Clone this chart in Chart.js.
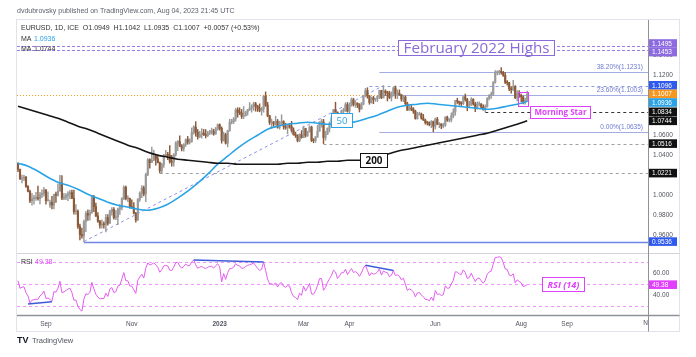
<!DOCTYPE html>
<html><head><meta charset="utf-8"><title>EURUSD 1D</title>
<script src="https://cdn.jsdelivr.net/npm/chart.js"></script>
<style>html,body{margin:0;padding:0;background:#fff;overflow:hidden}canvas{display:block}</style>
</head><body>
<canvas id="c" width="696" height="357"></canvas>
<script>
// ---------------- DATA (bar 0 = 2022-08-12, daily bars, last = 2023-08-04) ----------------
const open = [1.0320,1.0258,1.0162,1.0171,1.0179,1.0088,1.0038,0.9943,0.9966,0.9969,0.9974,0.9965,1.0003,1.0017,1.0054,0.9945,0.9900,0.9929,0.9902,1.0007,
1.0000,1.0041,1.0121,0.9970,0.9979,0.9998,1.0014,1.0027,0.9970,0.9836,0.9839,0.9688,0.9607,0.9594,0.9736,0.9817,0.9801,0.9825,0.9984,0.9886,
0.9793,0.9740,0.9701,0.9706,0.9705,0.9777,0.9720,0.9838,0.9858,0.9774,0.9784,0.9861,0.9875,0.9965,1.0080,0.9965,0.9966,0.9882,0.9877,0.9820,
0.9752,0.9960,1.0020,1.0073,1.0013,1.0207,1.0355,1.0325,1.0350,1.0392,1.0363,1.0325,1.0245,1.0304,1.0397,1.0408,1.0398,1.0338,1.0330,1.0406,
1.0522,1.0537,1.0492,1.0468,1.0507,1.0556,1.0530,1.0537,1.0627,1.0682,1.0628,1.0584,1.0605,1.0622,1.0604,1.0595,1.0618,1.0638,1.0639,1.0612,
1.0663,1.0705,1.0669,1.0548,1.0607,1.0520,1.0644,1.0730,1.0735,1.0762,1.0853,1.0829,1.0822,1.0788,1.0795,1.0831,1.0855,1.0870,1.0885,1.0915,
1.0890,1.0868,1.0847,1.0863,1.0990,1.0902,1.0795,1.0727,1.0727,1.0712,1.0740,1.0678,1.0723,1.0737,1.0688,1.0674,1.0694,1.0687,1.0650,1.0604,
1.0595,1.0545,1.0607,1.0576,1.0667,1.0597,1.0635,1.0681,1.0548,1.0545,1.0581,1.0640,1.0731,1.0733,1.0577,1.0610,1.0671,1.0719,1.0769,1.0856,
1.0831,1.0760,1.0799,1.0843,1.0843,1.0904,1.0841,1.0901,1.0955,1.0906,1.0921,1.0901,1.0862,1.0911,1.0992,1.1046,1.0993,1.0926,1.0973,1.0956,
1.0966,1.0990,1.1048,1.0974,1.1041,1.1027,1.1020,1.0977,1.1000,1.1073,1.1012,1.1020,1.1004,1.0962,1.0982,1.0915,1.0850,1.0872,1.0862,1.0840,
1.0767,1.0806,1.0812,1.0770,1.0750,1.0725,1.0723,1.0706,1.0735,1.0690,1.0761,1.0710,1.0713,1.0692,1.0698,1.0781,1.0750,1.0753,1.0792,1.0833,
1.0944,1.0939,1.0922,1.0915,1.0985,1.0957,1.0894,1.0905,1.0960,1.0913,1.0867,1.0909,1.0912,1.0880,1.0854,1.0886,1.0967,1.0999,1.1010,1.1128,
1.1225,1.1228,1.1238,1.1229,1.1200,1.1129,1.1124,1.1064,1.1055,1.1087,1.0975,1.1017,1.0998,1.0983,1.0938,1.0949];
const high = [1.0324,1.0262,1.0201,1.0202,1.0188,1.0095,1.0050,1.0018,0.9999,1.0028,1.0091,1.0028,1.0054,1.0079,1.0057,1.0034,0.9952,0.9988,1.0011,1.0030,
1.0113,1.0198,1.0197,1.0019,1.0017,1.0037,1.0049,1.0051,1.0050,0.9907,0.9853,0.9710,0.9671,0.9750,0.9839,0.9853,0.9850,0.9999,0.9999,0.9920,
0.9826,0.9749,0.9754,0.9734,0.9808,0.9806,0.9850,0.9876,0.9876,0.9845,0.9871,0.9906,0.9976,1.0093,1.0090,0.9993,0.9970,0.9954,0.9926,0.9828,
0.9966,1.0034,1.0095,1.0090,1.0222,1.0365,1.0363,1.0481,1.0450,1.0410,1.0403,1.0332,1.0318,1.0409,1.0448,1.0428,1.0497,1.0398,1.0416,1.0535,
1.0545,1.0594,1.0505,1.0515,1.0564,1.0588,1.0564,1.0673,1.0695,1.0736,1.0657,1.0640,1.0666,1.0658,1.0656,1.0639,1.0650,1.0671,1.0660,1.0679,
1.0713,1.0713,1.0683,1.0631,1.0620,1.0650,1.0760,1.0760,1.0777,1.0868,1.0875,1.0874,1.0858,1.0887,1.0840,1.0858,1.0927,1.0905,1.0930,1.0929,
1.0900,1.0914,1.0880,1.1000,1.1033,1.0930,1.0798,1.0762,1.0738,1.0790,1.0758,1.0740,1.0804,1.0745,1.0720,1.0705,1.0718,1.0739,1.0674,1.0631,
1.0605,1.0614,1.0646,1.0690,1.0670,1.0640,1.0694,1.0691,1.0566,1.0588,1.0700,1.0736,1.0760,1.0759,1.0640,1.0672,1.0731,1.0786,1.0858,1.0930,
1.0833,1.0807,1.0852,1.0870,1.0925,1.0927,1.0922,1.0973,1.0970,1.0941,1.0924,1.0916,1.0927,1.0998,1.1068,1.1075,1.0996,1.0982,1.0990,1.0970,
1.0995,1.1050,1.1050,1.1095,1.1054,1.1040,1.1040,1.1034,1.1080,1.1092,1.1054,1.1053,1.1008,1.1000,1.0992,1.0930,1.0903,1.0904,1.0876,1.0850,
1.0829,1.0830,1.0822,1.0808,1.0760,1.0737,1.0734,1.0747,1.0742,1.0772,1.0779,1.0726,1.0714,1.0720,1.0785,1.0791,1.0765,1.0823,1.0865,1.0949,
1.0970,1.0940,1.0935,1.0985,1.1012,1.0969,1.0939,1.0976,1.0965,1.0928,1.0933,1.0933,1.0916,1.0903,1.0903,1.0975,1.1007,1.1032,1.1136,1.1245,
1.1244,1.1249,1.1276,1.1238,1.1227,1.1145,1.1129,1.1086,1.1149,1.1095,1.1045,1.1046,1.1011,1.0994,1.0972,1.1042];
const low = [1.0235,1.0159,1.0122,1.0145,1.0079,1.0033,0.9926,0.9900,0.9911,0.9948,0.9951,0.9914,0.9975,0.9990,0.9910,0.9940,0.9877,0.9864,0.9864,0.9929,
0.9990,1.0041,0.9955,0.9955,0.9956,0.9945,0.9966,0.9966,0.9810,0.9807,0.9669,0.9553,0.9570,0.9536,0.9635,0.9749,0.9750,0.9819,0.9835,0.9785,
0.9727,0.9671,0.9670,0.9670,0.9632,0.9700,0.9719,0.9800,0.9761,0.9755,0.9705,0.9808,0.9852,0.9955,0.9954,0.9935,0.9870,0.9869,0.9812,0.9730,
0.9748,0.9938,0.9976,0.9992,0.9935,1.0195,1.0270,1.0325,1.0345,1.0300,1.0324,1.0223,1.0225,1.0277,1.0385,1.0355,1.0320,1.0290,1.0290,1.0390,
1.0446,1.0485,1.0443,1.0440,1.0487,1.0510,1.0512,1.0530,1.0610,1.0590,1.0560,1.0575,1.0571,1.0597,1.0572,1.0585,1.0605,1.0610,1.0600,1.0610,
1.0650,1.0650,1.0520,1.0540,1.0511,1.0483,1.0640,1.0712,1.0715,1.0740,1.0780,1.0805,1.0767,1.0766,1.0790,1.0800,1.0846,1.0830,1.0850,1.0840,
1.0837,1.0834,1.0800,1.0830,1.0888,1.0784,1.0707,1.0670,1.0688,1.0700,1.0670,1.0660,1.0700,1.0660,1.0659,1.0613,1.0670,1.0630,1.0600,1.0577,
1.0533,1.0535,1.0570,1.0575,1.0580,1.0586,1.0630,1.0536,1.0524,1.0528,1.0580,1.0640,1.0680,1.0516,1.0550,1.0606,1.0632,1.0712,1.0760,1.0830,
1.0713,1.0760,1.0788,1.0814,1.0837,1.0830,1.0788,1.0889,1.0891,1.0878,1.0876,1.0832,1.0860,1.0903,1.0983,1.0970,1.0909,1.0920,1.0915,1.0938,
1.0936,1.0966,1.0966,1.0972,1.0995,1.0942,1.0966,1.0942,1.0992,1.0968,1.0966,1.0998,1.0940,1.0935,1.0906,1.0848,1.0850,1.0845,1.0818,1.0760,
1.0760,1.0800,1.0760,1.0748,1.0710,1.0702,1.0693,1.0675,1.0635,1.0662,1.0705,1.0675,1.0665,1.0674,1.0688,1.0738,1.0732,1.0733,1.0775,1.0799,
1.0917,1.0901,1.0896,1.0906,1.0940,1.0844,1.0883,1.0897,1.0900,1.0835,1.0860,1.0893,1.0872,1.0851,1.0834,1.0880,1.0953,1.0967,1.0998,1.1121,
1.1203,1.1205,1.1210,1.1188,1.1115,1.1101,1.1045,1.1020,1.1045,1.0966,1.0944,1.0977,1.0935,1.0912,1.0910,1.0935];
const close = [1.0259,1.0162,1.0171,1.0179,1.0088,1.0038,0.9943,0.9966,0.9969,0.9974,0.9965,1.0003,1.0017,1.0054,0.9945,0.9954,0.9929,0.9902,1.0007,1.0000,
1.0041,1.0121,0.9970,0.9979,0.9998,1.0014,1.0027,0.9970,0.9836,0.9839,0.9688,0.9607,0.9594,0.9736,0.9817,0.9801,0.9825,0.9984,0.9886,0.9793,
0.9740,0.9701,0.9706,0.9705,0.9777,0.9720,0.9838,0.9858,0.9774,0.9784,0.9861,0.9875,0.9965,1.0080,0.9965,0.9966,0.9882,0.9877,0.9820,0.9752,
0.9960,1.0020,1.0073,1.0013,1.0207,1.0355,1.0325,1.0350,1.0392,1.0363,1.0325,1.0245,1.0304,1.0397,1.0408,1.0398,1.0338,1.0330,1.0406,1.0522,
1.0537,1.0492,1.0468,1.0507,1.0556,1.0530,1.0537,1.0627,1.0682,1.0628,1.0584,1.0605,1.0622,1.0604,1.0595,1.0618,1.0638,1.0639,1.0612,1.0663,
1.0705,1.0669,1.0548,1.0607,1.0520,1.0644,1.0730,1.0735,1.0762,1.0853,1.0829,1.0822,1.0788,1.0795,1.0831,1.0855,1.0870,1.0885,1.0915,1.0890,
1.0868,1.0847,1.0863,1.0990,1.0902,1.0795,1.0727,1.0727,1.0712,1.0740,1.0678,1.0723,1.0737,1.0688,1.0674,1.0694,1.0687,1.0650,1.0604,1.0595,
1.0545,1.0607,1.0576,1.0667,1.0597,1.0635,1.0681,1.0548,1.0545,1.0581,1.0640,1.0731,1.0733,1.0577,1.0610,1.0671,1.0719,1.0769,1.0856,1.0831,
1.0760,1.0799,1.0843,1.0843,1.0904,1.0841,1.0901,1.0955,1.0906,1.0921,1.0901,1.0862,1.0911,1.0992,1.1046,1.0993,1.0926,1.0973,1.0956,1.0966,
1.0990,1.1048,1.0974,1.1041,1.1027,1.1020,1.0977,1.1000,1.1073,1.1012,1.1020,1.1004,1.0962,1.0982,1.0915,1.0850,1.0872,1.0862,1.0840,1.0767,
1.0806,1.0812,1.0770,1.0750,1.0725,1.0723,1.0706,1.0735,1.0690,1.0761,1.0710,1.0713,1.0692,1.0698,1.0781,1.0750,1.0753,1.0792,1.0833,1.0944,
1.0939,1.0922,1.0915,1.0985,1.0957,1.0894,1.0905,1.0960,1.0913,1.0867,1.0909,1.0912,1.0880,1.0854,1.0886,1.0967,1.0999,1.1010,1.1128,1.1225,
1.1228,1.1238,1.1229,1.1200,1.1129,1.1124,1.1064,1.1055,1.1087,1.0975,1.1017,1.0998,1.0983,1.0938,1.0949,1.1007];
const rsi = [53,46,47,47.5,42,39,32.5,35,35.5,36,35.8,39,40.6,43.5,36.5,37.2,35.8,34,43,42.5,
46,52.5,42,42.8,44,45.2,46.2,42,35,35.3,29.5,26.5,25,36,41,40.3,42,51.5,45.5,40.5,
38,36.3,36.6,36.5,41.5,38.5,45.5,46.7,42.2,42.9,48,48.8,54.5,60.5,53,53,48.2,48,44.7,41.3,
53.5,56.5,59,55.5,64.5,69.5,67.5,68.3,69.5,67.7,65.5,60.8,63.2,66.7,67.2,66.6,62.8,62.4,65.5,69.6,
70.1,66.5,64.6,66.3,68.4,66.8,67.1,70.3,72.2,67.8,64.5,65.5,66.2,65,64.3,65.4,66.3,66.3,64.6,66.9,
68.6,65.8,52,59.6,54.2,60.5,64.2,64.4,65.5,68.8,67.2,66.7,64.4,64.7,66.2,67.2,67.8,68.4,69.6,66.8,
64.5,62.5,63.5,70.3,62.5,54.5,50.2,50.2,49.2,51,47.2,50.3,51.2,47.9,47,48.5,48,42,38.5,37.5,
35.5,41.5,39.5,48,43.5,46.7,50.4,40.8,40.6,43.7,48.5,55,55.1,44.2,46.8,51.6,54.8,58,62.8,61.1,
55.1,57.5,60.4,60.4,63.7,58.6,61.6,64.2,60.7,61.4,60.1,57.1,60.2,64.8,67.2,62.6,57.5,60.3,59.1,59.6,
61,64,58.2,61.9,60.9,60.4,56.7,58.1,62.4,57.9,58.4,57.2,53.8,55.3,49.8,44,45.5,44.5,42.8,38.2,
41.7,42.2,39.6,38.3,35.8,35.7,34.5,38,34.6,44,40.4,40.8,39.4,40.1,48.3,46,46.3,50,53.4,61.3,
60.9,59.3,58.7,63,60.5,55.2,56,60,55.9,52.2,55.2,55.5,52.9,50.7,53.3,59.1,61.2,61.9,68.5,74.5,
74.6,75.2,74.3,69.9,63.8,63.4,58.3,57.6,59.5,51.1,53.8,52.4,51.2,47.6,48.4,49.38];
// moving averages read every maStep bars (bar 0, 5, 10, ... 255)
const maStep = 5;
const ma50 = [1.032,1.029,1.024,1.018,1.013,1.010,1.006,1.001,0.997,0.993,0.990,0.988,0.986,0.985,0.987,0.991,0.997,1.004,1.012,1.021,
1.031,1.039,1.047,1.054,1.060,1.066,1.069,1.071,1.072,1.073,1.072,1.071,1.071,1.072,1.074,1.077,1.080,1.084,1.088,1.090,
1.091,1.092,1.091,1.090,1.089,1.088,1.087,1.086,1.087,1.089,1.091,1.0936];
const ma200 = [1.089,1.086,1.083,1.080,1.077,1.073,1.069,1.066,1.062,1.058,1.054,1.050,1.047,1.043,1.040,1.038,1.036,1.035,1.034,1.033,
1.032,1.032,1.031,1.031,1.031,1.031,1.031,1.032,1.032,1.033,1.033,1.034,1.034,1.035,1.035,1.036,1.038,1.041,1.044,1.046,
1.048,1.050,1.052,1.054,1.056,1.058,1.060,1.062,1.065,1.068,1.071,1.0744];
// time axis
const xTickIdx = [14,57,101,143,166,209,252,275,316];
const xTickLabels = ['Sep','Nov','2023','Mar','Apr','Jun','Aug','Sep','Nov'];
const priceTicks = [0.96,0.98,1.00,1.02,1.04,1.06,1.08,1.10,1.12,1.14];
const rsiTicks = [40,60];
const rsiLevels = [70,50,30];
// drawn levels
const levelPrices = [1.1495,1.1453,1.1096,1.0834,1.0516,1.0221,0.9536];
const levelStart  = [-0.5,-0.5,176,234,153,71,33];
const fibLabels = ['38.20%','23.60%','0.00%'];
const fibPrices = [1.1231,1.1003,1.0635];
const fibStart = 181;
const trendLine = [33,0.9536,183,1.1095];
const rsiDivergence = [[5,31.6,17,33.7],[88,72.2,123,70.3],[174,67.2,188,62.4]];
const lastPrice = 1.1007, lastMA50 = 1.0936, lastMA200 = 1.0744, lastRSI = 49.38;
const patternBox = [250.4,255.6,1.1035,1.0892];
const notes = [
  {text:'February 2022 Highs', i:229.2, v:1.1476, axis:'y'},
  {text:'50', i:162.2, v:1.0752, axis:'y'},
  {text:'200', i:178, v:1.0352, axis:'y'},
  {text:'Morning Star', i:271.5, v:1.0834, axis:'y'},
  {text:'RSI (14)', i:272.7, v:50, axis:'yR'}
];

// ---------------- STYLE ----------------
const UP = '#9a9a9a', DOWN = '#8c5a38';
const FONT = "'Liberation Sans', Arial, sans-serif";
const NOTE_FONT = "'Open Sans', 'Liberation Sans', sans-serif";
const noteStyle = [
  {color:'#8a6bd9', w:146, h:15, weight:'normal', italic:false},
  {color:'#2aa3e6', w:11, h:14, weight:'normal', italic:false},
  {color:'#111111', w:17, h:14, weight:'bold', italic:false},
  {color:'#e040fb', w:52, h:12, weight:'bold', italic:false},
  {color:'#e040fb', w:32, h:14, weight:'bold', italic:true}
];
const levelStyle = [
  {c:'#9b7fe6', d:[3,2], w:1},
  {c:'#9b7fe6', d:[3,2], w:1},
  {c:'#8f9be0', d:[3,3], w:1},
  {c:'#333333', d:[3,3], w:1},
  {c:'#a0a0a0', d:[3,3], w:1},
  {c:'#a0a0a0', d:[3,3], w:1},
  {c:'#6f86e8', d:[], w:1.5}
];
const X_MIN = -0.5, X_MAX = 315.5;

Chart.defaults.font.family = FONT;

const candleColor = close.map((c,i)=> c>=open[i] ? UP : DOWN);
const wickData = close.map((c,i)=>({x:i, y:[low[i], high[i]]}));
const bodyData = close.map((c,i)=>({x:i, y:[Math.min(open[i],c), Math.max(open[i],c)]}));
const ma50Data = ma50.map((v,k)=>({x:k*maStep, y:v}));
const ma200Data = ma200.map((v,k)=>({x:k*maStep, y:v}));
const rsiData = rsi.map((v,i)=>({x:i, y:v}));

function seg(ctx,x1,y1,x2,y2){ctx.beginPath();ctx.moveTo(x1,y1);ctx.lineTo(x2,y2);ctx.stroke();}

const overlay = {
  id:'overlay',
  beforeDatasetsDraw(chart){
    const {ctx, chartArea:ca, scales:{x,y,yR}} = chart;
    ctx.save();
    ctx.beginPath(); ctx.rect(ca.left, ca.top, ca.right-ca.left, ca.bottom-ca.top); ctx.clip();
    ctx.lineWidth = 1; ctx.setLineDash([3,3]); ctx.strokeStyle = 'rgba(224,64,251,0.55)';
    rsiLevels.forEach(v=>{const py=Math.round(yR.getPixelForValue(v))+0.5; seg(ctx,ca.left,py,ca.right,py);});
    ctx.setLineDash([1,2]); ctx.strokeStyle='#f59a23';
    let py = Math.round(y.getPixelForValue(lastPrice))+0.5; seg(ctx,ca.left,py,ca.right,py);
    levelPrices.forEach((p,k)=>{
      const s=levelStyle[k]; ctx.strokeStyle=s.c; ctx.lineWidth=s.w; ctx.setLineDash(s.d);
      const yy=Math.round(y.getPixelForValue(p))+0.5;
      seg(ctx, x.getPixelForValue(levelStart[k]), yy, ca.right, yy);
    });
    ctx.setLineDash([]); ctx.lineWidth=1; ctx.strokeStyle='#a3abe3';
    fibPrices.forEach(p=>{const yy=Math.round(y.getPixelForValue(p))+0.5; seg(ctx,x.getPixelForValue(fibStart),yy,ca.right,yy);});
    ctx.setLineDash([3,3]); ctx.strokeStyle='#8c8fe8';
    seg(ctx, x.getPixelForValue(trendLine[0]), y.getPixelForValue(trendLine[1]), x.getPixelForValue(trendLine[2]), y.getPixelForValue(trendLine[3]));
    ctx.restore();
  },
  afterDatasetsDraw(chart){
    const {ctx, chartArea:ca, scales:{x,y,yR}} = chart;
    ctx.save();
    ctx.strokeStyle='#3f5bd8'; ctx.lineWidth=1.5;
    rsiDivergence.forEach(d=>seg(ctx,x.getPixelForValue(d[0]),yR.getPixelForValue(d[1]),x.getPixelForValue(d[2]),yR.getPixelForValue(d[3])));
    ctx.fillStyle='#6d7ad1'; ctx.font='6.5px '+FONT; ctx.textAlign='right'; ctx.textBaseline='alphabetic';
    fibPrices.forEach((p,k)=>{ctx.fillText(fibLabels[k]+'('+p.toFixed(4)+')', ca.right-5, y.getPixelForValue(p)-3);});
    ctx.strokeStyle='#e040fb'; ctx.lineWidth=1;
    const bx1=Math.round(x.getPixelForValue(patternBox[0]))+0.5, bx2=Math.round(x.getPixelForValue(patternBox[1]))+0.5;
    const by1=Math.round(y.getPixelForValue(patternBox[2]))+0.5, by2=Math.round(y.getPixelForValue(patternBox[3]))+0.5;
    ctx.strokeRect(bx1,by1,bx2-bx1,by2-by1);
    notes.forEach((n,k)=>{
      const s=noteStyle[k]; const sc = n.axis==='y'? y : yR;
      const base = (s.italic?'italic ':'')+s.weight+' ';
      ctx.font = base+'10px '+NOTE_FONT;
      const m = ctx.measureText(n.text).width;
      const size = 10*s.w/m;
      ctx.font = base+size.toFixed(2)+'px '+NOTE_FONT;
      const tw = ctx.measureText(n.text).width;
      const bw = Math.round(tw + (s.h>13? 10:8)), bh = s.h;
      const cx = x.getPixelForValue(n.i), cy = sc.getPixelForValue(n.v);
      const l = Math.round(cx-bw/2)+0.5, t=Math.round(cy-bh/2)+0.5;
      ctx.fillStyle='#fff'; ctx.fillRect(l,t,bw,bh);
      ctx.strokeStyle=s.color; ctx.lineWidth=1; ctx.strokeRect(l,t,bw,bh);
      ctx.fillStyle=s.color; ctx.textAlign='center'; ctx.textBaseline='middle';
      ctx.fillText(n.text, l+bw/2, t+bh/2+0.5);
    });
    ctx.restore();
  },
  afterDraw(chart){
    const {ctx, chartArea:ca, scales:{x,y,yR}} = chart;
    ctx.save();
    const axR = 679.5, axBottom = 331.5;
    ctx.save();
    ctx.beginPath(); ctx.rect(ca.left, ca.bottom, ca.right-ca.left, axBottom-ca.bottom); ctx.clip();
    ctx.fillStyle='#50535e'; ctx.font='6.5px '+FONT; ctx.textAlign='center'; ctx.textBaseline='top';
    xTickIdx.forEach((v,k)=>{ if(v>X_MAX) ctx.fillText(xTickLabels[k], x.getPixelForValue(v), ca.bottom+5); });
    ctx.restore();
    ctx.strokeStyle='#e0e3eb'; ctx.lineWidth=1;
    ctx.strokeRect(16.5,19.5,axR-16.5,axBottom-19.5);
    const sep = Math.round(y.bottom)+0.5;
    ctx.strokeStyle='#d1d4dc'; seg(ctx, ca.left, sep, axR, sep);
    ctx.strokeStyle='#8f929b'; ctx.lineWidth=1;
    seg(ctx, Math.round(ca.right)+0.5, ca.top, Math.round(ca.right)+0.5, axBottom);
    ctx.lineWidth=1.5; seg(ctx, ca.left, ca.bottom+0.5, axR, ca.bottom+0.5);
    const tags = [
      {v:1.1495, bg:'#8e6ae0'}, {v:1.1453, bg:'#8e6ae0'}, {v:1.1096, bg:'#2f5af0'},
      {v:lastPrice, bg:'#f5961e'}, {v:lastMA50, bg:'#2aa3e6'}, {v:1.0834, bg:'#111'},
      {v:lastMA200, bg:'#111'}, {v:1.0516, bg:'#111'}, {v:1.0221, bg:'#111'}, {v:0.9536, bg:'#2f5af0'}
    ].map(t=>({...t, py:y.getPixelForValue(t.v), txt:t.v.toFixed(4)}));
    tags.push({v:lastRSI, bg:'#e040fb', py:yR.getPixelForValue(lastRSI), txt:lastRSI.toFixed(2)});
    const H=8.6;
    tags.sort((a,b)=>a.py-b.py);
    for(let it=0; it<30; it++){
      for(let k=1;k<tags.length;k++){
        const a=tags[k-1], b=tags[k]; const ov=a.py+H-b.py;
        if(ov>0){a.py-=ov/2; b.py+=ov/2;}
      }
    }
    ctx.font='6.5px '+FONT; ctx.textAlign='left'; ctx.textBaseline='middle';
    tags.forEach(t=>{
      ctx.fillStyle=t.bg; ctx.fillRect(ca.right+1, t.py-H/2, 28, H);
      ctx.fillStyle='#fff'; ctx.fillText(t.txt, ca.right+4, t.py+0.5);
    });
    ctx.textBaseline='middle'; ctx.textAlign='left';
    ctx.fillStyle='#5d606b'; ctx.font='7px '+FONT;
    ctx.fillText('dvdubrovsky published on TradingView.com, Aug 04, 2023 21:45 UTC', 17, 11);
    ctx.fillStyle='#333'; ctx.font='7px '+FONT;
    ctx.fillText('EURUSD, 1D, ICE  O1.0949  H1.1042  L1.0935  C1.1007  +0.0057 (+0.53%)', 21, 28.5);
    ctx.fillText('MA', 21, 39); ctx.fillStyle='#2aa3e6'; ctx.fillText(lastMA50.toFixed(4), 34, 39);
    ctx.fillStyle='#333'; ctx.fillText('MA', 21, 49.5); ctx.fillText(lastMA200.toFixed(4), 34, 49.5);
    const ry = yR.getPixelForValue(70);
    ctx.fillStyle='#333'; ctx.fillText('RSI', 21, ry); ctx.fillStyle='#e040fb'; ctx.fillText(lastRSI.toFixed(2), 35, ry);
    ctx.fillStyle='#131722'; ctx.font='bold 9px '+FONT; ctx.fillText('TV', 17, 341);
    ctx.fillStyle='#50535e'; ctx.font='7.5px '+FONT; ctx.fillText('TradingView', 32, 341);
    ctx.restore();
  }
};

new Chart(document.getElementById('c'), {
  data:{datasets:[
    {type:'line', label:'RSI', data:rsiData, yAxisID:'yR', borderColor:'#e45cf0', borderWidth:1, pointRadius:0, order:1},
    {type:'line', label:'MA200', data:ma200Data, yAxisID:'y', borderColor:'#151515', borderWidth:1.6, pointRadius:0, cubicInterpolationMode:'monotone', order:2},
    {type:'line', label:'MA50', data:ma50Data, yAxisID:'y', borderColor:'#2aa3e6', borderWidth:1.6, pointRadius:0, cubicInterpolationMode:'monotone', order:3},
    {type:'bar', label:'body', data:bodyData, yAxisID:'y', backgroundColor:candleColor, barThickness:1.5, minBarLength:1, grouped:false, order:4},
    {type:'bar', label:'wick', data:wickData, yAxisID:'y', backgroundColor:candleColor, barThickness:0.8, grouped:false, order:5}
  ]},
  options:{
    responsive:false, animation:false, devicePixelRatio:1,
    layout:{padding:{left:17, right:17, top:20, bottom:26}},
    plugins:{legend:{display:false}, tooltip:{enabled:false}},
    scales:{
      x:{type:'linear', position:'bottom', min:X_MIN, max:X_MAX, offset:false,
         grid:{display:false, drawTicks:false, offset:false}, border:{display:false},
         afterBuildTicks:s=>{s.ticks = xTickIdx.filter(v=>v<=X_MAX).map(v=>({value:v}));},
         ticks:{autoSkip:false, maxRotation:0, padding:5, color:'#50535e',
           font:c=>({size:6.5, weight:(c.tick && xTickLabels[xTickIdx.indexOf(c.tick.value)]==='2023')?'bold':'normal'}),
           callback:v=>{const k=xTickIdx.indexOf(v); return k>=0? xTickLabels[k] : '';}},
         afterFit:s=>{s.height=16;}},
      y:{type:'linear', position:'right', stack:'panes', stackWeight:233, min:0.9422, max:1.1752,
         grid:{display:false, drawTicks:false}, border:{display:false},
         afterBuildTicks:s=>{s.ticks = priceTicks.map(v=>({value:v}));},
         ticks:{padding:5, color:'#50535e', font:{size:6.5}, callback:v=>v.toFixed(4)},
         afterFit:s=>{s.width=31;}},
      yR:{type:'linear', position:'right', stack:'panes', stackWeight:62, min:21.4, max:78.6,
         grid:{display:false, drawTicks:false}, border:{display:false},
         afterBuildTicks:s=>{s.ticks = rsiTicks.map(v=>({value:v}));},
         ticks:{padding:5, color:'#50535e', font:{size:6.5}, callback:v=>v.toFixed(2)},
         afterFit:s=>{s.width=31;}}
    }
  },
  plugins:[overlay]
});
</script>
</body></html>
